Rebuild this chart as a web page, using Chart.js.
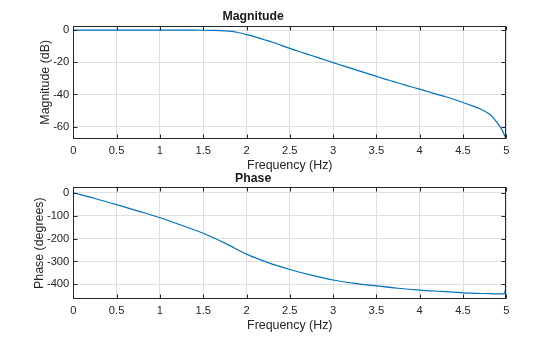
<!DOCTYPE html>
<html>
<head>
<meta charset="utf-8">
<script src="https://cdn.jsdelivr.net/npm/chart.js@4"></script>
<style>
  html,body{margin:0;padding:0;background:#fff;}
  #wrap{position:relative;width:560px;height:337px;overflow:hidden;}
  canvas{position:absolute;left:0;}
</style>
</head>
<body>
<div id="wrap">
  <canvas id="c1" width="560" height="175" style="top:0;width:560px;height:175px"></canvas>
  <canvas id="c2" width="560" height="167" style="top:170px;width:560px;height:167px"></canvas>
</div>
<script>
// ---- data ----
const freqMag = [0,0.2,0.4,0.6,0.8,1.0,1.2,1.4,1.5,1.6,1.7,1.8,1.9,2.0,2.1,2.2,2.3,2.4,2.5,2.6,2.7,2.8,2.9,3.0,3.1,3.2,3.3,3.4,3.5,3.6,3.7,3.8,3.9,4.0,4.1,4.2,4.3,4.4,4.5,4.6,4.7,4.8,4.85,4.9,4.95,4.98,5.0];
const magnitude = [0,0,0,0,0,0,0,0,-0.02,-0.06,-0.2,-0.6,-1.4,-2.7,-4.1,-5.8,-7.5,-9.4,-11.3,-13.1,-14.9,-16.6,-18.4,-20.2,-21.9,-23.6,-25.3,-27.0,-28.7,-30.4,-32.0,-33.6,-35.2,-36.7,-38.3,-39.9,-41.4,-43.1,-45.0,-46.9,-49.0,-52.0,-54.5,-58.0,-62.0,-65.5,-67.7];
const freqPhase = [0,0.25,0.5,0.75,1.0,1.25,1.5,1.75,2.0,2.25,2.5,2.75,3.0,3.25,3.5,3.75,4.0,4.25,4.5,4.75,4.9,4.975,5.0];
const phase = [0,-25,-52,-80,-109,-142,-177,-220,-268,-305,-335,-360,-381,-396,-407,-417,-425,-431,-437,-440,-442,-442,-403];
const xTicks = [0,0.5,1,1.5,2,2.5,3,3.5,4,4.5,5];
const magTicks = [-60,-40,-20,0];
const phaseTicks = [-400,-300,-200,-100,0];
const magRange = [-67.7, 2.9];
const phaseRange = [-464, 23.6];

const FONT = "'Liberation Sans', Arial, Helvetica, sans-serif";
const AXC = '#262626';
const GRIDC = '#dfdfdf';

// box + inward tick marks, MATLAB style
const boxTicks = {
  id: 'boxTicks',
  afterDraw(chart) {
    const {ctx, chartArea: a, scales: {x, y}} = chart;
    const L = Math.round(a.left) + 0.5, R = Math.round(a.right) - 0.5;
    const T = Math.round(a.top) + 0.5, B = Math.round(a.bottom) - 0.5;
    ctx.save();
    ctx.strokeStyle = AXC;
    ctx.lineWidth = 1;
    ctx.beginPath();
    const tl = 4;
    x.ticks.forEach(t => {
      const px = Math.round(x.getPixelForValue(t.value)) + 0.5;
      ctx.moveTo(px, B); ctx.lineTo(px, B - tl);
      ctx.moveTo(px, T); ctx.lineTo(px, T + tl);
    });
    y.ticks.forEach(t => {
      const py = Math.round(y.getPixelForValue(t.value)) + 0.5;
      ctx.moveTo(L, py); ctx.lineTo(L + tl, py);
      ctx.moveTo(R, py); ctx.lineTo(R - tl, py);
    });
    ctx.stroke();
    ctx.strokeRect(L, T, R - L, B - T);
    ctx.restore();
  }
};

function makeChart(id, xs, ys, yTicks, yRange, title, yTitle, opt) {
  const pts = xs.map((v, i) => ({x: v, y: ys[i]}));
  return new Chart(document.getElementById(id), {
    type: 'line',
    data: {datasets: [{
      data: pts,
      borderColor: '#0072BD',
      borderWidth: 1.2,
      pointRadius: 0,
      fill: false,
      cubicInterpolationMode: 'monotone'
    }]},
    options: {
      responsive: false,
      animation: false,
      events: [],
      layout: {padding: {left: 0, right: 53.7, top: 0, bottom: 0}},
      plugins: {
        legend: {display: false},
        tooltip: {enabled: false},
        title: {
          display: true, text: title, color: '#1a1a1a',
          font: {family: FONT, size: 12.3, weight: 'bold', lineHeight: 1.2},
          padding: opt.titlePad
        }
      },
      scales: {
        x: {
          type: 'linear', min: 0, max: 5,
          afterBuildTicks: s => { s.ticks = xTicks.map(v => ({value: v})); },
          afterFit: s => { s.height = opt.xHeight; },
          ticks: {
            color: AXC, padding: 5, maxRotation: 0, autoSkip: false,
            font: {family: FONT, size: 11.2},
            callback: v => String(v)
          },
          grid: {color: GRIDC, drawTicks: false, lineWidth: 1},
          border: {display: false},
          title: {
            display: true, text: 'Frequency (Hz)', color: AXC,
            font: {family: FONT, size: 12.4, lineHeight: 1.2},
            padding: {top: 0, bottom: opt.xTitlePad}
          }
        },
        y: {
          type: 'linear', min: yRange[0], max: yRange[1],
          afterBuildTicks: s => { s.ticks = yTicks.map(v => ({value: v})); },
          afterFit: s => { s.width = 73.3; },
          ticks: {
            color: AXC, padding: 4, autoSkip: false,
            font: {family: FONT, size: 11.2},
            callback: v => String(v)
          },
          grid: {color: GRIDC, drawTicks: false, lineWidth: 1},
          border: {display: false},
          title: {
            display: true, text: yTitle, color: AXC,
            font: {family: FONT, size: 12.4, lineHeight: 1.2},
            padding: {top: opt.yTitlePad, bottom: 0}
          }
        }
      }
    },
    plugins: [boxTicks]
  });
}

makeChart('c1', freqMag, magnitude, magTicks, magRange, 'Magnitude', 'Magnitude (dB)',
  {titlePad: {top: 9, bottom: 1.8}, xHeight: 36, xTitlePad: 1.6, yTitlePad: 38},
);
makeChart('c2', freqPhase, phase, phaseTicks, phaseRange, 'Phase', 'Phase (degrees)',
  {titlePad: {top: 1.2, bottom: 1.4}, xHeight: 38, xTitlePad: 3.6, yTitlePad: 31.8});
</script>
</body>
</html>
